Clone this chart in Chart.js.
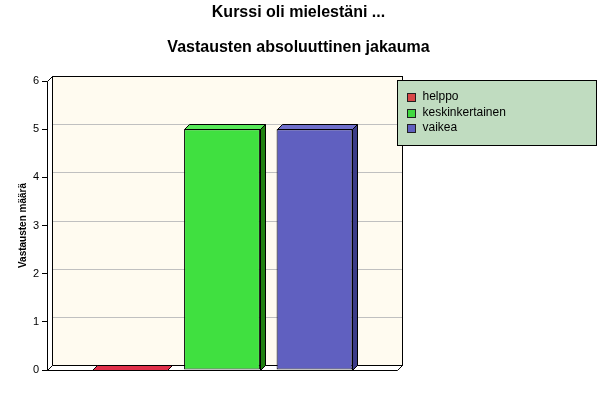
<!DOCTYPE html>
<html>
<head>
<meta charset="utf-8">
<script src="https://cdn.jsdelivr.net/npm/chart.js@4"></script>
<style>
  html, body { margin: 0; padding: 0; background: #fff; }
  #wrap { width: 597px; height: 411px; }
</style>
</head>
<body>
<div id="wrap"><canvas id="chart" width="597" height="411"></canvas></div>
<script>
const titleText = "Kurssi oli mielestäni ...";
const subtitleText = "Vastausten absoluuttinen jakauma";
const axisTitle = "Vastausten määrä";
const categories = [""];
const seriesNames = ["helppo", "keskinkertainen", "vaikea"];
const helppo = [0];
const keskinkertainen = [5];
const vaikea = [5];
const yTicks = [0, 1, 2, 3, 4, 5, 6];

// front / top / side colours for each series
const frontColors = ["#d8203c", "#40e040", "#6060c0"];
const topColors = ["#e0304a", "#58e858", "#7070cc"];
const sideColors = ["#901020", "#208010", "#3c3c88"];
const legendColors = ["#d84848", "#40d840", "#6060c0"];

const depth = 5;
const fontFamily = "'Liberation Sans', Arial, sans-serif";

// the two title lines, centred on the whole picture
const pageTitles = {
  id: "pageTitles",
  afterDraw(chart) {
    const { ctx, width } = chart;
    ctx.save();
    ctx.fillStyle = "#000";
    ctx.font = "bold 16px " + fontFamily;
    ctx.textAlign = "center";
    ctx.textBaseline = "middle";
    ctx.fillText(titleText, width / 2, 13);
    ctx.fillText(subtitleText, width / 2, 48);
    ctx.restore();
  }
};

// back wall, left wall, floor and the gridlines on the wall
const box3d = {
  id: "box3d",
  beforeDatasetsDraw(chart) {
    const { ctx, chartArea: a } = chart;
    const ys = chart.scales.y;
    ctx.save();
    ctx.lineWidth = 1;
    ctx.strokeStyle = "#000";
    ctx.fillStyle = "#fffbf0";
    ctx.fillRect(a.left + depth, a.top - depth, a.right - a.left, a.bottom - a.top);
    ctx.strokeStyle = "#c0c0c0";
    yTicks.forEach(v => {
      if (v === yTicks[0] || v === yTicks[yTicks.length - 1]) return;
      const y = Math.round(ys.getPixelForValue(v) - depth) + 0.5;
      ctx.beginPath();
      ctx.moveTo(a.left + depth, y);
      ctx.lineTo(a.right + depth, y);
      ctx.stroke();
    });
    ctx.strokeStyle = "#000";
    ctx.strokeRect(a.left + depth + 0.5, a.top - depth + 0.5, a.right - a.left, a.bottom - a.top);
    // left wall
    ctx.fillStyle = "#ffffff";
    ctx.beginPath();
    ctx.moveTo(a.left + 0.5, a.top + 0.5);
    ctx.lineTo(a.left + depth + 0.5, a.top - depth + 0.5);
    ctx.lineTo(a.left + depth + 0.5, a.bottom - depth + 0.5);
    ctx.lineTo(a.left + 0.5, a.bottom + 0.5);
    ctx.closePath();
    ctx.fill();
    ctx.stroke();
    // floor
    ctx.beginPath();
    ctx.moveTo(a.left + 0.5, a.bottom + 0.5);
    ctx.lineTo(a.right + 0.5, a.bottom + 0.5);
    ctx.lineTo(a.right + depth + 0.5, a.bottom - depth + 0.5);
    ctx.lineTo(a.left + depth + 0.5, a.bottom - depth + 0.5);
    ctx.closePath();
    ctx.fill();
    ctx.stroke();
    ctx.restore();
  },
  afterDatasetsDraw(chart) {
    const { ctx } = chart;
    ctx.save();
    ctx.lineWidth = 1;
    ctx.strokeStyle = "#000";
    chart.data.datasets.forEach((ds, i) => {
      chart.getDatasetMeta(i).data.forEach(bar => {
        const p = bar.getProps(["x", "y", "base", "width"], true);
        const l = Math.round(p.x - p.width / 2) + 0.5;
        const r = Math.round(p.x + p.width / 2) + 0.5;
        const t = Math.round(p.y) + 0.5;
        const b = Math.round(p.base) + 0.5;
        // top face
        ctx.fillStyle = topColors[i];
        ctx.beginPath();
        ctx.moveTo(l, t);
        ctx.lineTo(l + depth, t - depth);
        ctx.lineTo(r + depth, t - depth);
        ctx.lineTo(r, t);
        ctx.closePath();
        ctx.fill();
        ctx.stroke();
        // side face
        if (b - t > 0) {
          ctx.fillStyle = sideColors[i];
          ctx.beginPath();
          ctx.moveTo(r, t);
          ctx.lineTo(r + depth, t - depth);
          ctx.lineTo(r + depth, b - depth);
          ctx.lineTo(r, b);
          ctx.closePath();
          ctx.fill();
          ctx.stroke();
        }
      });
    });
    ctx.restore();
  }
};

// boxed legend to the right of the plot
const boxLegend = {
  id: "boxLegend",
  afterDraw(chart) {
    const { ctx, chartArea: a } = chart;
    const x = a.right + 0.5, y = a.top - 0.5;
    const w = 199, h = 65;
    ctx.save();
    ctx.fillStyle = "#c0dcc0";
    ctx.fillRect(x, y, w, h);
    ctx.strokeStyle = "#000";
    ctx.lineWidth = 1;
    ctx.strokeRect(x, y, w, h);
    ctx.font = "12px " + fontFamily;
    ctx.textBaseline = "middle";
    chart.data.datasets.forEach((ds, i) => {
      const cy = y + 16.5 + i * 15.5;
      ctx.fillStyle = legendColors[i];
      ctx.fillRect(x + 10, Math.round(cy - 4) + 0.5, 8, 8);
      ctx.strokeStyle = "#202020";
      ctx.strokeRect(x + 10, Math.round(cy - 4) + 0.5, 8, 8);
      ctx.fillStyle = "#000";
      ctx.fillText(ds.label, x + 25, cy);
    });
    ctx.restore();
  }
};

const seriesData = [helppo, keskinkertainen, vaikea];

new Chart(document.getElementById("chart"), {
  type: "bar",
  data: {
    labels: categories,
    datasets: seriesNames.map((name, i) => ({
      label: name,
      data: seriesData[i],
      backgroundColor: frontColors[i],
      borderColor: "#000",
      borderWidth: 1,
      borderSkipped: false
    }))
  },
  options: {
    responsive: false,
    animation: false,
    devicePixelRatio: 1,
    categoryPercentage: 0.793,
    barPercentage: 0.82,
    layout: { padding: { left: 0, right: 200, top: 81, bottom: 41 } },
    plugins: {
      legend: { display: false },
      tooltip: { enabled: false },
      title: { display: false }
    },
    scales: {
      x: { display: false },
      y: {
        min: 0,
        max: 6,
        afterFit(scale) { scale.width = 47; },
        afterBuildTicks(scale) { scale.ticks = yTicks.map(v => ({ value: v })); },
        ticks: {
          color: "#000",
          padding: 3,
          font: { family: fontFamily, size: 11 }
        },
        grid: { drawOnChartArea: false, drawTicks: true, tickLength: 5, color: "#000" },
        border: { color: "#000" },
        title: {
          display: true,
          text: axisTitle,
          color: "#000",
          font: { family: fontFamily, size: 10, weight: "bold" },
          padding: { top: 17, bottom: 0 }
        }
      }
    }
  },
  plugins: [box3d, boxLegend, pageTitles]
});
</script>
</body>
</html>
